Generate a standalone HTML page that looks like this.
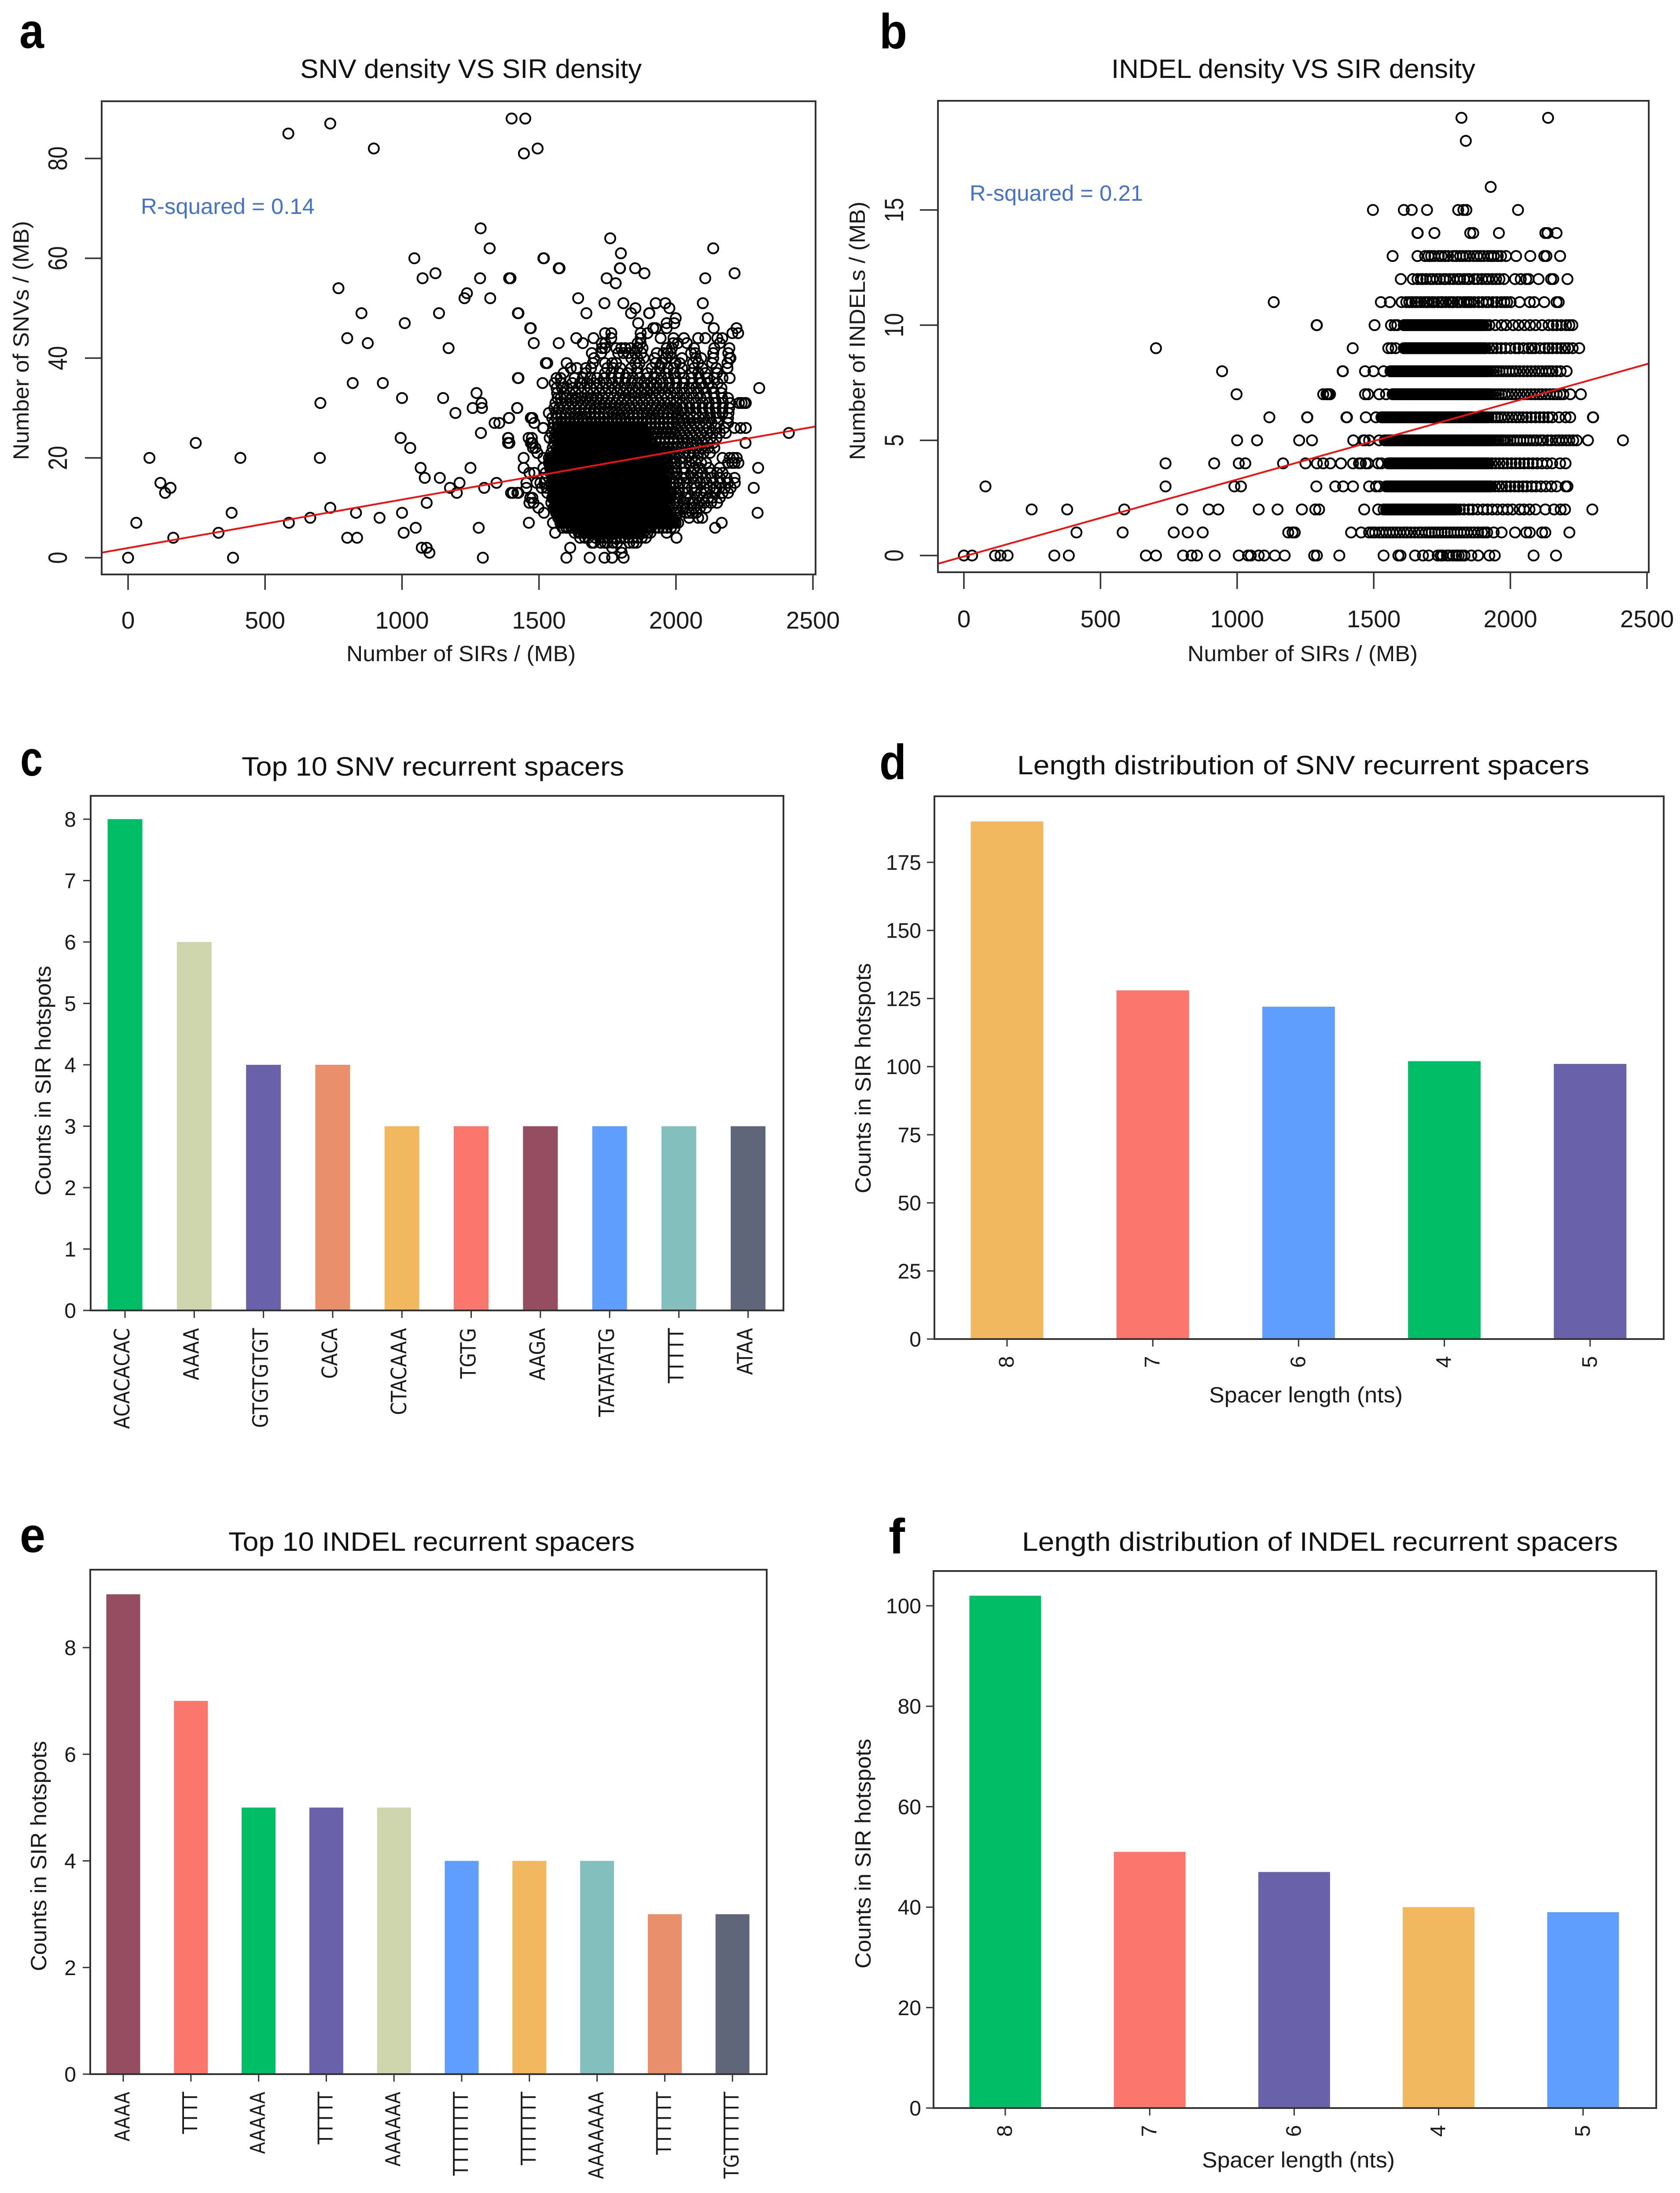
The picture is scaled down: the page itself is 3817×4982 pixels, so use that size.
<!DOCTYPE html>
<html lang="en">
<head>
<meta charset="utf-8">
<title>SNV and INDEL density versus SIR density</title>
<style>
html,body{margin:0;padding:0;background:#fff}
svg{display:block}
text{font-family:"Liberation Sans",sans-serif;fill:#1a1a1a}
.ttl{font-size:60px;fill:#111}
.lab{font-size:50px;fill:#1a1a1a}
.let{font-size:112px;font-weight:bold;fill:#000}
.r2{font-size:50px;fill:#4472C4}
.frame{fill:none;stroke:#333;stroke-width:4}
</style>
</head>
<body>
<svg id="figure" xmlns="http://www.w3.org/2000/svg" width="3817" height="4982" viewBox="0 0 3817 4982">
<rect x="0" y="0" width="3817" height="4982" fill="#fff"/>

<text class="let" x="44" y="109" textLength="56" lengthAdjust="spacingAndGlyphs">a</text>
<text class="let" x="1998" y="110" textLength="63" lengthAdjust="spacingAndGlyphs">b</text>
<text class="let" x="46" y="1762" textLength="51" lengthAdjust="spacingAndGlyphs">c</text>
<text class="let" x="1998" y="1770" textLength="61" lengthAdjust="spacingAndGlyphs">d</text>
<text class="let" x="45" y="3526" textLength="58" lengthAdjust="spacingAndGlyphs">e</text>
<text class="let" x="2019" y="3529" textLength="37" lengthAdjust="spacingAndGlyphs">f</text>

<text class="ttl" x="682" y="177" textLength="776" lengthAdjust="spacingAndGlyphs">SNV density VS SIR density</text>
<text class="ttl" x="2525" y="177" textLength="827" lengthAdjust="spacingAndGlyphs">INDEL density VS SIR density</text>
<text class="ttl" x="549" y="1762" textLength="869" lengthAdjust="spacingAndGlyphs">Top 10 SNV recurrent spacers</text>
<text class="ttl" x="2311" y="1759" textLength="1300" lengthAdjust="spacingAndGlyphs">Length distribution of SNV recurrent spacers</text>
<text class="ttl" x="519" y="3523" textLength="923" lengthAdjust="spacingAndGlyphs">Top 10 INDEL recurrent spacers</text>
<text class="ttl" x="2322" y="3523" textLength="1354" lengthAdjust="spacingAndGlyphs">Length distribution of INDEL recurrent spacers</text>

<text class="lab" x="787" y="1502" textLength="521" lengthAdjust="spacingAndGlyphs">Number of SIRs / (MB)</text>
<text class="lab" transform="translate(65,1045) rotate(-90)" textLength="543" lengthAdjust="spacingAndGlyphs">Number of SNVs / (MB)</text>
<text class="lab" x="2698" y="1502" textLength="523" lengthAdjust="spacingAndGlyphs">Number of SIRs / (MB)</text>
<text class="lab" transform="translate(1965,1045) rotate(-90)" textLength="587" lengthAdjust="spacingAndGlyphs">Number of INDELs / (MB)</text>
<text class="lab" transform="translate(115,2716) rotate(-90)" textLength="522" lengthAdjust="spacingAndGlyphs">Counts in SIR hotspots</text>
<text class="lab" transform="translate(1978,2711) rotate(-90)" textLength="523" lengthAdjust="spacingAndGlyphs">Counts in SIR hotspots</text>
<text class="lab" x="2747" y="3186" textLength="440" lengthAdjust="spacingAndGlyphs">Spacer length (nts)</text>
<text class="lab" transform="translate(105,4478) rotate(-90)" textLength="523" lengthAdjust="spacingAndGlyphs">Counts in SIR hotspots</text>
<text class="lab" transform="translate(1978,4472) rotate(-90)" textLength="522" lengthAdjust="spacingAndGlyphs">Counts in SIR hotspots</text>
<text class="lab" x="2731" y="4924" textLength="438" lengthAdjust="spacingAndGlyphs">Spacer length (nts)</text>

<text class="r2" x="320" y="486" textLength="395" lengthAdjust="spacingAndGlyphs">R-squared = 0.14</text>
<text class="r2" x="2203" y="456" textLength="394" lengthAdjust="spacingAndGlyphs">R-squared = 0.21</text>
</svg>

<script>
// ---- panel a data: one row of SIR values per SNV count ----
const snvLevels = [0,1,2,3,4,5,6,7,8,9,10,11,12,13,14,15,16,17,18,19,20,21,22,23,24,25,26,27,28,29,30,31,32,33,34,35,36,37,38,39,40,41,42,43,44,45,46,47,48,49,50,51,52,53,54,55,56,57,58,60,61,62,64,66,81,82,85,87,88];
const snvSirRows = [
[0,383,1295,1600,1685,1739,1767,1809],
[1100,1802],
[1072,1090,1614,1767,1800],
[1693,1700,1725,1741,1750,1770,1785,1830,1845,1856],
[165,800,836,1650,1668,1680,1706,1722,1738,1752,1766,1781,1797,1812,1828,1842,1860,1875,1890,2002],
[330,1006,1559,1630,1645,1662,1675,1690,1704,1716,1730,1744,1759,1773,1790,1805,1820,1836,1850,1866,1881,1896,1907,1966],
[1050,1280,1586,1600,1618,1633,1648,1662,1677,1691,1706,1721,1735,1749,1764,1778,1793,1807,1822,1837,1851,1866,1880,1895,1909,1924,1938,1953,1967,1982,1995,2143],
[30,587,1463,1551,1578,1592,1605,1619,1632,1646,1660,1673,1687,1700,1714,1727,1741,1755,1768,1782,1795,1809,1822,1836,1850,1863,1877,1890,1904,1917,1931,1945,1958,1972,1985,1999,2008,2167],
[665,918,1570,1584,1597,1611,1624,1638,1651,1664,1678,1691,1705,1718,1732,1745,1759,1772,1786,1799,1813,1826,1840,1853,1867,1880,1894,1907,1921,1934,1948,1961,1975,1988,2000,2048,2081,2096],
[378,832,1000,1518,1562,1575,1589,1602,1616,1629,1643,1656,1670,1683,1697,1710,1724,1737,1751,1764,1778,1791,1805,1818,1832,1845,1859,1872,1886,1899,1913,1926,1940,1953,1967,1980,1994,2006,2036,2048,2060,2074,2298],
[738,1498,1553,1567,1580,1594,1607,1621,1634,1648,1661,1675,1688,1702,1715,1729,1742,1756,1769,1783,1796,1810,1823,1837,1850,1864,1877,1891,1904,1918,1931,1945,1958,1972,1985,1999,2025,2042,2066,2088,2110],
[1090,1465,1480,1545,1560,1573,1586,1600,1613,1627,1640,1654,1667,1681,1694,1708,1721,1735,1748,1762,1775,1789,1802,1816,1829,1843,1856,1870,1883,1897,1910,1924,1937,1951,1964,1978,1991,2005,2030,2048,2060,2085,2104,2128,2150],
[1468,1476,1548,1562,1575,1589,1602,1616,1629,1643,1656,1670,1683,1697,1710,1724,1737,1751,1764,1778,1791,1805,1818,1832,1845,1859,1872,1886,1899,1913,1926,1940,1953,1967,1980,1994,2008,2036,2052,2079,2098,2118,2132,2160],
[135,1200,1398,1421,1405,1425,1530,1552,1566,1579,1593,1606,1620,1633,1647,1660,1674,1687,1701,1714,1728,1741,1755,1768,1782,1795,1809,1822,1836,1849,1863,1876,1890,1903,1917,1930,1944,1957,1971,1984,1998,2012,2042,2070,2092,2110,2142,2170,2190],
[155,1175,1300,1454,1510,1528,1548,1561,1575,1588,1602,1615,1629,1642,1656,1669,1683,1696,1710,1723,1737,1750,1764,1777,1791,1804,1818,1831,1845,1858,1872,1885,1899,1912,1926,1939,1953,1966,1980,1993,2010,2032,2058,2074,2102,2124,2148,2178,2200,2284],
[118,1210,1345,1454,1491,1505,1520,1545,1560,1573,1587,1600,1614,1627,1641,1654,1668,1681,1695,1708,1722,1735,1749,1762,1776,1789,1803,1816,1830,1843,1857,1870,1884,1897,1911,1924,1938,1951,1965,1978,1992,2014,2040,2066,2088,2112,2136,2162,2190,2215],
[1083,1138,1548,1562,1575,1589,1602,1616,1629,1643,1656,1670,1683,1697,1710,1724,1737,1751,1764,1778,1791,1805,1818,1832,1845,1859,1872,1886,1899,1913,1926,1940,1953,1967,1980,1994,2020,2036,2062,2080,2108,2130,2160,2185,2214],
[1465,1483,1524,1542,1556,1570,1583,1597,1610,1624,1637,1651,1664,1678,1691,1705,1718,1732,1745,1759,1772,1786,1799,1813,1826,1840,1853,1867,1880,1894,1907,1921,1934,1948,1961,1975,1988,2002,2030,2056,2078,2096,2125,2150,2170],
[1068,1250,1444,1516,1540,1555,1568,1582,1595,1609,1622,1636,1649,1663,1676,1690,1703,1717,1730,1744,1757,1771,1784,1798,1811,1825,1838,1852,1865,1879,1892,1906,1919,1933,1946,1960,1973,1987,2001,2030,2068,2086,2120,2160,2300],
[1536,1550,1563,1577,1590,1604,1617,1631,1644,1658,1671,1685,1698,1712,1725,1739,1752,1766,1779,1793,1806,1820,1833,1847,1860,1874,1887,1901,1914,1928,1941,1955,1968,1982,1995,2020,2048,2072,2092,2110,2190,2205,2214,2228],
[78,410,700,1444,1516,1536,1549,1563,1576,1590,1604,1617,1631,1644,1658,1671,1685,1698,1712,1725,1739,1753,1766,1780,1793,1807,1820,1834,1847,1861,1875,1888,1902,1915,1929,1942,1956,1970,1983,1997,2016,2034,2058,2080,2170,2196,2210,2222],
[1494,1545,1561,1575,1591,1606,1621,1637,1652,1668,1683,1699,1714,1730,1745,1761,1776,1792,1807,1823,1838,1854,1869,1885,1900,1916,1931,1947,1962,1978,1994,2011,2028,2046,2064,2082,2100,2124],
[1030,1478,1487,1550,1565,1581,1596,1612,1627,1643,1659,1674,1690,1705,1721,1736,1752,1767,1783,1798,1814,1829,1845,1860,1876,1891,1907,1922,1938,1954,1969,1985,2002,2021,2038,2057,2076,2094,2118,2140],
[247,1392,1387,1470,1476,1555,1570,1586,1601,1617,1632,1648,1663,1679,1694,1710,1726,1741,1757,1772,1788,1803,1819,1834,1850,1865,1881,1897,1912,1928,1943,1959,1974,1990,2006,2024,2042,2060,2078,2098,2116,2136,2254],
[995,1388,1387,1462,1474,1539,1556,1572,1587,1603,1618,1634,1649,1665,1680,1696,1711,1727,1742,1758,1773,1789,1804,1820,1835,1851,1866,1882,1897,1913,1928,1944,1959,1975,1990,2006,2026,2044,2064,2084,2104,2126,2148],
[1288,1546,1561,1577,1592,1608,1623,1639,1654,1670,1685,1701,1716,1732,1747,1763,1778,1794,1809,1825,1840,1856,1871,1887,1902,1918,1933,1949,1964,1980,1996,2014,2032,2052,2072,2090,2112,2134,2160,2182,2412],
[1515,1516,1552,1566,1582,1597,1613,1628,1644,1659,1675,1690,1706,1721,1737,1752,1768,1783,1799,1814,1830,1845,1861,1876,1892,1907,1923,1938,1954,1970,1985,2002,2020,2040,2058,2078,2098,2120,2146,2176,2214,2236,2255],
[1338,1355,1483,1554,1568,1584,1600,1615,1631,1646,1662,1677,1693,1708,1724,1739,1755,1770,1786,1801,1817,1832,1848,1863,1879,1894,1910,1925,1941,1956,1972,1988,2008,2026,2046,2066,2086,2108,2130,2152,2190],
[1390,1391,1470,1476,1548,1564,1580,1595,1611,1627,1642,1658,1673,1689,1704,1720,1736,1751,1767,1782,1798,1813,1829,1845,1860,1876,1892,1907,1923,1938,1954,1970,1986,2004,2024,2044,2064,2084,2104,2126,2148,2190],
[1195,1536,1562,1580,1598,1615,1633,1650,1668,1685,1703,1720,1738,1755,1773,1790,1808,1826,1844,1862,1880,1897,1915,1933,1951,1969,1987,2008,2030,2052,2074,2098,2124,2146,2170,2192],
[1258,1292,1421,1420,1556,1574,1592,1611,1630,1648,1667,1685,1704,1722,1741,1760,1778,1797,1815,1834,1852,1871,1889,1908,1926,1945,1964,1984,2004,2026,2050,2072,2096,2120,2144,2170,2194],
[702,1290,1560,1580,1600,1620,1640,1660,1680,1700,1720,1740,1760,1780,1800,1820,1840,1860,1880,1900,1920,1940,1960,1980,2002,2024,2048,2072,2098,2120,2146,2172,2198,2230,2240,2250,2255],
[1000,1150,1568,1579,1598,1618,1636,1655,1675,1694,1714,1733,1753,1772,1792,1811,1831,1850,1870,1889,1909,1928,1948,1968,1990,2014,2040,2064,2090,2112,2140,2168,2190],
[1272,1566,1590,1612,1633,1655,1677,1698,1720,1742,1763,1785,1807,1828,1850,1872,1893,1915,1937,1958,1980,2004,2030,2056,2082,2110,2138,2166],
[1564,1584,1602,1624,1644,1666,1688,1710,1732,1754,1776,1798,1820,1842,1864,1886,1908,1930,1952,1974,1996,2022,2048,2074,2100,2132,2166,2304],
[820,930,1513,1557,1580,1622,1650,1675,1700,1722,1746,1768,1790,1814,1838,1860,1884,1908,1930,1952,1976,2002,2030,2060,2092,2120,2152],
[1425,1423,1564,1579,1630,1660,1688,1712,1738,1764,1790,1816,1842,1868,1894,1920,1946,1972,1998,2028,2056,2084,2114,2140,2170,2196],
[1590,1671,1741,1764,1793,1823,1859,1896,1926,1963,1992,2014,2059,2081,2107,2150],
[1616,1638,1671,1690,1749,1771,1797,1837,1859,1911,1941,1970,1992,2022,2066,2096,2147,2188],
[1530,1525,1601,1697,1741,1767,1782,1852,1867,1926,1948,1999,2014,2062,2081,2132,2188],
[1701,1837,1859,1882,1922,1963,1985,2022,2073,2092,2136,2195,2199],
[1693,1727,1789,1808,1826,1852,1874,1930,1955,1970,1981,2055,2070,2136,2191],
[1170,1730,1741,1782,1800,1815,1834,1859,1878,1966,1985,2066,2140,2195],
[875,1481,1572,1660,1729,1742,1860,1871,1990,2007,2040,2160],
[800,1636,1699,1764,1871,1944,1991,2029,2081,2107,2151,2169],
[1741,1764,1871,1896,2206,2227],
[1468,1470,1926,1917,1966,2138,2221],
[1010,1862,1966,1994],
[1999,2116],
[852,1135,1425,1423,1673,1836,1902,1903],
[1852,1976],
[1739,1808,1926,1961,2098],
[1228,1322,1643],
[1237],
[768],
[1780],
[1075,1285,1396,1391,1747,2107],
[1122,1885,2214],
[1575,1572,1795,1796,1851],
[1045,1518,1516],
[1799],
[1320,2136],
[1760],
[1287],
[1445],
[897,1495],
[585],
[738],
[1400,1450]
];
// extra points in the black core of panel a (SIR values per SNV count)
const snvCoreLevels = [5,6,7,8,9,10,11,12,13,14,15,16,17,18,19,20,21,22,23,24,25,26];
const snvCoreSirRows = [
[1652,1668,1683,1697,1710,1724,1737,1752,1766,1783,1798,1813,1828,1843,1858,1873],
[1608,1625,1640,1655,1670,1684,1698,1713,1728,1742,1757,1771,1786,1800,1815,1830,1844,1858,1873,1888,1902],
[1585,1598,1612,1626,1639,1653,1667,1680,1693,1707,1721,1734,1748,1761,1775,1789,1802,1816,1829,1843,1856,1870,1884,1897,1911,1924,1938,1952,1965,1979,1992],
[1577,1591,1604,1617,1631,1645,1658,1671,1685,1698,1712,1725,1739,1752,1766,1779,1793,1806,1820,1833,1847,1860,1874,1887,1901,1914,1928,1941,1955,1968,1982],
[1569,1582,1596,1609,1623,1636,1650,1663,1677,1690,1704,1717,1731,1744,1758,1771,1785,1798,1812,1825,1839,1852,1866,1879,1893,1906,1920,1933,1947,1960],
[1560,1574,1587,1601,1614,1628,1641,1655,1668,1682,1695,1709,1722,1736,1749,1763,1776,1790,1803,1817,1830,1844,1857,1871,1884,1898,1911,1925,1938,1952],
[1566,1580,1593,1607,1620,1634,1647,1661,1674,1688,1701,1715,1728,1742,1755,1769,1782,1796,1809,1823,1836,1850,1863,1877,1890,1904,1917,1931,1944],
[1555,1569,1582,1596,1609,1623,1636,1650,1663,1677,1690,1704,1717,1731,1744,1758,1771,1785,1798,1812,1825,1839,1852,1866,1879,1893,1906,1920,1933,1947],
[1559,1573,1586,1600,1613,1627,1640,1654,1667,1681,1694,1708,1721,1735,1748,1762,1775,1789,1802,1816,1829,1843,1856,1870,1883,1897,1910,1924,1937,1950],
[1555,1568,1582,1595,1609,1622,1636,1649,1663,1676,1690,1703,1717,1730,1744,1757,1771,1784,1798,1811,1825,1838,1852,1865,1879,1892,1906,1919,1933,1946],
[1553,1567,1580,1594,1607,1621,1634,1648,1661,1675,1688,1702,1715,1729,1742,1756,1769,1783,1796,1810,1823,1837,1850,1864,1877,1891,1904,1918,1931,1945],
[1555,1569,1582,1596,1609,1623,1636,1650,1663,1677,1690,1704,1717,1731,1744,1758,1771,1785,1798,1812,1825,1839,1852,1866,1879,1893,1906,1920,1933,1947],
[1549,1563,1576,1590,1603,1617,1630,1644,1657,1671,1684,1698,1711,1725,1738,1752,1765,1779,1792,1806,1819,1833,1846,1860,1873,1887,1900,1914,1927,1941],
[1547,1561,1575,1588,1602,1615,1629,1642,1656,1669,1683,1696,1710,1723,1737,1750,1764,1777,1791,1804,1818,1831,1845,1858,1872,1885,1899,1912,1926,1939],
[1543,1557,1570,1584,1597,1611,1624,1638,1651,1665,1678,1692,1705,1719,1732,1746,1759,1773,1786,1800,1813,1827,1840,1854,1867,1881,1894,1908,1921,1935],
[1543,1556,1570,1583,1597,1611,1624,1638,1651,1665,1678,1692,1705,1719,1732,1746,1760,1773,1787,1800,1814,1827,1841,1854,1868,1882,1895,1909,1922,1936],
[1568,1583,1599,1614,1629,1645,1660,1676,1691,1707,1722,1738,1753,1769,1784,1800,1815,1831,1846,1862,1877,1893,1908,1924],
[1573,1589,1604,1620,1635,1651,1667,1682,1698,1713,1729,1744,1760,1775,1791,1806,1822,1837,1853,1868,1884,1899,1915],
[1578,1594,1609,1625,1640,1656,1671,1687,1702,1718,1734,1749,1765,1780,1796,1811,1827,1842,1858,1873,1889,1905],
[1564,1580,1595,1611,1626,1642,1657,1673,1688,1704,1719,1735,1750,1766,1781,1797,1812,1828,1843,1859,1874,1890],
[1569,1585,1600,1616,1631,1647,1662,1678,1693,1709,1724,1740,1755,1771,1786,1802,1817,1833,1848,1864,1879],
[1574,1590,1605,1621,1636,1652,1667,1683,1698,1714,1729,1745,1760,1776,1791,1807,1822,1838,1853,1869]
];
const snvFit = [1.95, 0.0097];
const snvXTicks = [0,500,1000,1500,2000,2500];
const snvYTicks = [0,20,40,60,80];

// ---- panel b data: one row of SIR values per INDEL count (index = count) ----
const indelSirRows = [
[0,30,114,134,160,331,384,666,703,802,833,853,918,1006,1040,1050,1079,1099,1138,1174,1282,1292,1374,1536,1590,1598,1651,1680,1701,1734,1745,1752,1768,1776,1790,1802,1811,1822,1832,1857,1882,1923,1943,2085,2167],
[412,581,768,819,874,1187,1203,1211,1417,1454,1483,1495,1505,1520,1532,1545,1558,1570,1583,1596,1610,1622,1635,1650,1664,1676,1690,1702,1712,1724,1736,1748,1760,1770,1782,1794,1806,1818,1830,1842,1856,1868,1882,1896,1906,1915,1939,1968,2017,2058,2071,2116,2128,2216],
[248,378,587,799,896,931,1079,1148,1237,1286,1300,1465,1516,1536,1545,1553,1561,1570,1578,1586,1595,1603,1611,1620,1628,1636,1645,1653,1661,1670,1678,1686,1695,1703,1711,1720,1728,1736,1745,1753,1761,1770,1778,1786,1795,1803,1815,1830,1848,1862,1880,1900,1916,1934,1952,1972,1990,2008,2034,2050,2070,2092,2128,2160,2184,2200,2300],
[79,738,990,1014,1290,1359,1388,1424,1483,1508,1520,1545,1553,1561,1570,1578,1586,1595,1603,1612,1620,1628,1637,1645,1653,1662,1670,1678,1687,1695,1703,1712,1720,1728,1737,1745,1753,1762,1770,1778,1787,1795,1803,1812,1820,1828,1837,1845,1853,1862,1870,1878,1887,1895,1903,1912,1920,1930,1944,1958,1970,1985,2000,2016,2030,2046,2060,2078,2094,2112,2130,2150,2169,2202,2209],
[738,916,1006,1030,1168,1250,1292,1315,1341,1380,1424,1446,1453,1471,1479,1516,1528,1553,1561,1569,1578,1586,1594,1603,1611,1619,1628,1636,1644,1653,1661,1669,1678,1686,1694,1703,1711,1719,1728,1736,1744,1753,1761,1769,1778,1786,1794,1803,1811,1819,1828,1836,1844,1853,1861,1869,1878,1886,1894,1903,1911,1920,1932,1945,1960,1974,1988,2004,2020,2034,2050,2066,2082,2098,2116,2134,2153,2182,2202],
[1000,1073,1227,1274,1425,1462,1467,1483,1520,1540,1548,1556,1565,1573,1581,1590,1598,1606,1615,1623,1631,1640,1648,1656,1665,1673,1681,1690,1698,1706,1715,1723,1731,1740,1748,1756,1765,1773,1781,1790,1798,1806,1815,1823,1831,1840,1848,1856,1865,1873,1881,1890,1898,1906,1915,1923,1931,1940,1948,1956,1965,1973,1981,1990,2000,2012,2024,2036,2048,2060,2072,2084,2096,2110,2120,2137,2150,2166,2178,2190,2204,2216,2230,2243,2284,2412],
[1118,1256,1257,1400,1401,1402,1471,1508,1528,1536,1544,1553,1561,1569,1578,1586,1594,1603,1611,1619,1628,1636,1644,1653,1661,1669,1678,1686,1694,1703,1711,1719,1728,1736,1744,1753,1761,1769,1778,1786,1794,1803,1811,1819,1828,1836,1844,1853,1861,1869,1878,1886,1894,1903,1911,1920,1932,1944,1954,1966,1978,1992,2006,2020,2032,2046,2060,2076,2092,2108,2122,2138,2153,2178,2202,2219,2302,2303],
[998,1315,1327,1329,1335,1340,1468,1479,1520,1545,1569,1577,1585,1594,1602,1610,1619,1627,1635,1644,1652,1660,1669,1677,1685,1694,1702,1710,1719,1727,1735,1744,1752,1760,1769,1777,1785,1794,1802,1810,1819,1827,1835,1844,1852,1860,1869,1877,1885,1894,1902,1910,1919,1928,1938,1948,1958,1968,1980,1992,2006,2020,2034,2048,2062,2076,2090,2104,2116,2130,2144,2158,2170,2182,2194,2219,2258],
[945,1386,1387,1468,1499,1536,1561,1569,1577,1586,1594,1602,1611,1619,1627,1636,1644,1652,1661,1669,1677,1686,1694,1702,1711,1719,1727,1736,1744,1752,1761,1769,1777,1786,1794,1802,1811,1819,1827,1836,1844,1852,1861,1869,1877,1886,1894,1902,1911,1920,1930,1940,1950,1960,1972,1984,1996,2008,2020,2034,2048,2062,2076,2090,2104,2116,2130,2142,2154,2169,2184,2206],
[703,1423,1553,1565,1580,1610,1618,1626,1635,1643,1651,1660,1668,1676,1685,1693,1701,1710,1718,1726,1735,1743,1751,1760,1768,1776,1785,1793,1801,1810,1818,1826,1835,1843,1851,1860,1868,1876,1885,1893,1901,1910,1923,1936,1950,1966,1982,2000,2018,2030,2048,2066,2078,2090,2108,2126,2140,2154,2170,2186,2200,2212,2228,2252],
[1292,1291,1503,1563,1577,1586,1610,1618,1627,1635,1643,1652,1660,1668,1677,1685,1693,1702,1710,1718,1727,1735,1743,1752,1760,1768,1777,1785,1793,1802,1810,1818,1827,1835,1843,1852,1860,1868,1877,1885,1893,1902,1912,1923,1945,1968,1985,2010,2030,2052,2072,2092,2116,2140,2156,2170,2186,2204,2216,2227],
[1134,1526,1559,1602,1619,1630,1640,1652,1660,1672,1684,1694,1702,1714,1722,1736,1746,1752,1764,1776,1786,1792,1806,1816,1830,1840,1848,1856,1868,1884,1898,1912,1920,1936,1950,1966,1978,1988,2001,2034,2071,2087,2124,2169,2177],
[1599,1643,1660,1672,1680,1692,1706,1716,1730,1742,1756,1764,1778,1792,1806,1816,1830,1842,1850,1868,1880,1896,1910,1920,1934,1948,1960,1976,2017,2038,2058,2067,2103,2149,2157,2209],
[1569,1660,1688,1700,1710,1722,1738,1748,1760,1772,1790,1802,1816,1826,1838,1850,1866,1878,1890,1902,1918,1930,1940,1954,1966,1984,2021,2073,2124,2132,2182],
[1660,1661,1722,1853,1864,1958,2128,2136,2169],
[1497,1610,1639,1695,1809,1828,1839,2028],
[1928],
[],
[1837],
[1821,2138]
];
// extra points in the black bands of panel b (SIR values per INDEL count)
const indelCoreLevels = [2,3,4,5,6,7,8,9,10];
const indelCoreSirRows = [
[1549,1557,1566,1574,1582,1591,1599,1607,1616,1624,1632,1641,1649,1657,1666,1674,1682,1691,1699,1707,1716,1724,1732,1741,1749,1757,1766,1774,1782,1791,1799],
[1549,1557,1566,1574,1582,1591,1599,1608,1616,1624,1633,1641,1649,1658,1666,1674,1683,1691,1699,1708,1716,1724,1733,1741,1749,1758,1766,1774,1783,1791,1799,1808,1816,1824,1833,1841,1849,1858,1866,1874,1883,1891,1899,1908,1916,1925],
[1557,1565,1574,1582,1590,1599,1607,1615,1624,1632,1640,1649,1657,1665,1674,1682,1690,1699,1707,1715,1724,1732,1740,1749,1757,1765,1774,1782,1790,1799,1807,1815,1824,1832,1840,1849,1857,1865,1874,1882,1890,1899,1907,1915],
[1544,1552,1561,1569,1577,1586,1594,1602,1611,1619,1627,1636,1644,1652,1661,1669,1677,1686,1694,1702,1711,1719,1727,1736,1744,1752,1761,1769,1777,1786,1794,1802,1811,1819,1827,1836,1844,1852,1861,1869,1877,1886,1894,1902,1911,1919,1927],
[1532,1540,1549,1557,1565,1574,1582,1590,1599,1607,1615,1624,1632,1640,1649,1657,1665,1674,1682,1690,1699,1707,1715,1724,1732,1740,1749,1757,1765,1774,1782,1790,1799,1807,1815,1824,1832,1840,1849,1857,1865,1874,1882,1890,1899,1907,1915],
[1573,1581,1590,1598,1606,1615,1623,1631,1640,1648,1656,1665,1673,1681,1690,1698,1706,1715,1723,1731,1740,1748,1756,1765,1773,1781,1790,1798,1806,1815,1823,1831,1840,1848,1856,1865,1873,1881,1890,1898,1906,1915,1923],
[1565,1573,1582,1590,1598,1607,1615,1623,1632,1640,1648,1657,1665,1673,1682,1690,1698,1707,1715,1723,1732,1740,1748,1757,1765,1773,1782,1790,1798,1807,1815,1823,1832,1840,1848,1857,1865,1873,1882,1890,1898,1907,1915],
[1614,1622,1630,1639,1647,1655,1664,1672,1680,1689,1697,1705,1714,1722,1730,1739,1747,1755,1764,1772,1780,1789,1797,1805,1814,1822,1830,1839,1847,1855,1864,1872,1880,1889,1897,1905],
[1614,1622,1631,1639,1647,1656,1664,1672,1681,1689,1697,1706,1714,1722,1731,1739,1747,1756,1764,1772,1781,1789,1797,1806,1814,1822,1831,1839,1847,1856,1864,1872,1881,1889,1897]
];
const indelFit = [-0.04, 0.00334];
const indelXTicks = [0,500,1000,1500,2000,2500];
const indelYTicks = [0,5,10,15];

// ---- panel c data ----
const snvSpacers = ['ACACACAC','AAAA','GTGTGTGT','CACA','CTACAAA','TGTG','AAGA','TATATATG','TTTTT','ATAA'];
const snvSpacerCounts = [8,6,4,4,3,3,3,3,3,3];
const snvSpacerTicks = [0,1,2,3,4,5,6,7,8];
const snvSpacerColors = ['#00BD66','#CFD5AD','#6962AB','#EA8F6C','#F2B85F','#FB766D','#954D62','#5F9EFD','#83BFBD','#5F6679'];

// ---- panel d data ----
const snvLengths = ['8','7','6','4','5'];
const snvLengthCounts = [190,128,122,102,101];
const snvLengthTicks = [0,25,50,75,100,125,150,175];
const snvLengthColors = ['#F2B85F','#FB766D','#5F9EFD','#00BD66','#6962AB'];

// ---- panel e data ----
const indelSpacers = ['AAAA','TTTT','AAAAA','TTTTT','AAAAAA','TTTTTTTT','TTTTTTT','AAAAAAA','TTTTTT','TGTTTTTT'];
const indelSpacerCounts = [9,7,5,5,5,4,4,4,3,3];
const indelSpacerTicks = [0,2,4,6,8];
const indelSpacerColors = ['#954D62','#FB766D','#00BD66','#6962AB','#CFD5AD','#5F9EFD','#F2B85F','#83BFBD','#EA8F6C','#5F6679'];

// ---- panel f data ----
const indelLengths = ['8','7','6','4','5'];
const indelLengthCounts = [102,51,47,40,39];
const indelLengthTicks = [0,20,40,60,80,100];
const indelLengthColors = ['#00BD66','#FB766D','#6962AB','#F2B85F','#5F9EFD'];

const NS = 'http://www.w3.org/2000/svg';
const figure = document.getElementById('figure');

function make(tag, attrs, parent) {
  const el = document.createElementNS(NS, tag);
  for (const k in attrs) el.setAttribute(k, attrs[k]);
  parent.appendChild(el);
  return el;
}
function linearScale(v0, p0, v1, p1) {
  return function (v) { return p0 + (v - v0) * (p1 - p0) / (v1 - v0); };
}
function tickLine(g, x1, y1, x2, y2, color, width, name) {
  const el = make('line', { x1: x1, y1: y1, x2: x2, y2: y2, stroke: color, 'stroke-width': width }, g);
  
  
}

function drawScatter(id, box, sx, sy, levels, rows, fit, xTicks, yTicks, xBase, yBase, tickX, tickY) {
  const g = make('g', {}, figure);
  
  
  const pts = make('g', { fill: 'none', stroke: '#000', 'stroke-width': 4 }, g);
  
  
  rows.forEach(function (row, i) {
    row.forEach(function (x) {
      const c = make('circle', { cx: sx(x), cy: sy(levels[i]), r: 11.5 }, pts);
      
      
    });
  });
  const xMin = (box.x0 - sx(0)) / (sx(1) - sx(0));
  const xMax = (box.x1 - sx(0)) / (sx(1) - sx(0));
  const line = make('line', { x1: box.x0, y1: sy(fit[0] + fit[1] * xMin), x2: box.x1, y2: sy(fit[0] + fit[1] * xMax), stroke: '#f01010', 'stroke-width': 4 }, g);
  
  
  const fr = make('rect', { x: box.x0, y: box.y0, width: box.x1 - box.x0, height: box.y1 - box.y0, class: 'frame' }, g);
  
  
  xTicks.forEach(function (t) {
    tickLine(g, sx(t), box.y1, sx(t), tickY, '#333', 3.5, 'x-tick-' + t);
    const l = make('text', { x: sx(t), y: xBase, 'text-anchor': 'middle', 'font-size': 55 }, g);
    l.textContent = String(t);
    
    
  });
  yTicks.forEach(function (t) {
    tickLine(g, box.x0, sy(t), tickX, sy(t), '#333', 3.5, 'y-tick-' + t);
    const s = String(t);
    const l = make('text', { transform: 'translate(' + yBase + ',' + sy(t) + ') rotate(-90)', 'text-anchor': 'middle', 'font-size': 60, textLength: s.length * 27.5, lengthAdjust: 'spacingAndGlyphs' }, g);
    l.textContent = s;
    
    
  });
}

function drawBars(id, o) {
  const g = make('g', {}, figure);
  
  
  const sy = linearScale(0, o.y0px, o.refValue, o.refPx);
  const sx = function (i) { return o.x0px + i * o.step; };
  o.values.forEach(function (v, i) {
    const r = make('rect', { x: sx(i) - o.barW / 2, y: sy(v), width: o.barW, height: sy(0) - sy(v), fill: o.colors[i] }, g);
    
    
    tickLine(g, sx(i), o.box.y1, sx(i), o.box.y1 + 17, '#333', 3, 'x-tick-' + o.cats[i]);
    const l = make('text', {}, g);
    l.textContent = o.cats[i];
    
    
    if (o.seq) {
      l.setAttribute('transform', 'translate(' + (sx(i) + o.seq.dx) + ',' + o.seq.top + ') rotate(-90)');
      l.setAttribute('text-anchor', 'end');
      l.setAttribute('font-size', o.seq.fs);
      l.style.fontFamily = '"DejaVu Sans",sans-serif';
      const natural = l.getComputedTextLength();
      l.setAttribute('textLength', natural * o.seq.squeeze);
      l.setAttribute('lengthAdjust', 'spacingAndGlyphs');
    } else {
      l.setAttribute('transform', 'translate(' + (sx(i) + 15) + ',' + o.catY + ') rotate(-90)');
      l.setAttribute('text-anchor', 'middle');
      l.setAttribute('font-size', 48);
    }
  });
  o.ticks.forEach(function (t) {
    tickLine(g, o.box.x0, sy(t), o.box.x0 - 17, sy(t), '#333', 3, 'y-tick-' + t);
    const l = make('text', { x: o.labelRight, y: sy(t) + 17, 'text-anchor': 'end', 'font-size': 48 }, g);
    l.textContent = String(t);
    
    
  });
  const fr = make('rect', { x: o.box.x0, y: o.box.y0, width: o.box.x1 - o.box.x0, height: o.box.y1 - o.box.y0, class: 'frame' }, g);
  
  
}

drawScatter('a', { x0: 231, y0: 230, x1: 1853, y1: 1305 },
  linearScale(0, 291, 2500, 1847), linearScale(0, 1267, 80, 360),
  snvLevels.concat(snvCoreLevels), snvSirRows.concat(snvCoreSirRows), snvFit, snvXTicks, snvYTicks, 1428, 152, 193, 1340);

const indelLevels = indelSirRows.map(function (r, i) { return i; });
drawScatter('b', { x0: 2131, y0: 229, x1: 3746, y1: 1300 },
  linearScale(0, 2190, 2500, 3742), linearScale(0, 1262, 15, 477),
  indelLevels.concat(indelCoreLevels), indelSirRows.concat(indelCoreSirRows), indelFit, indelXTicks, indelYTicks, 1425, 2052, 2090, 1338);

drawBars('c', { box: { x0: 206, y0: 1808, x1: 1780, y1: 2977 }, y0px: 2977, refValue: 8, refPx: 1861,
  x0px: 284, step: 157.3, barW: 79, values: snvSpacerCounts, cats: snvSpacers, colors: snvSpacerColors,
  ticks: snvSpacerTicks, labelRight: 173, seq: { top: 3017, dx: 10, fs: 48, squeeze: 0.875 } });

drawBars('d', { box: { x0: 2123, y0: 1809, x1: 3780, y1: 3042 }, y0px: 3042, refValue: 175, refPx: 1959,
  x0px: 2288, step: 331.2, barW: 165, values: snvLengthCounts, cats: snvLengths, colors: snvLengthColors,
  ticks: snvLengthTicks, labelRight: 2093, catY: 3094 });

drawBars('e', { box: { x0: 205, y0: 3566, x1: 1742, y1: 4712 }, y0px: 4712, refValue: 8, refPx: 3743,
  x0px: 280, step: 153.8, barW: 77, values: indelSpacerCounts, cats: indelSpacers, colors: indelSpacerColors,
  ticks: indelSpacerTicks, labelRight: 173, seq: { top: 4752, dx: 14, fs: 46, squeeze: 0.87 } });

drawBars('f', { box: { x0: 2121, y0: 3569, x1: 3763, y1: 4789 }, y0px: 4789, refValue: 100, refPx: 3648,
  x0px: 2284, step: 328.2, barW: 163, values: indelLengthCounts, cats: indelLengths, colors: indelLengthColors,
  ticks: indelLengthTicks, labelRight: 2093, catY: 4841 });
</script>
</body>
</html>
